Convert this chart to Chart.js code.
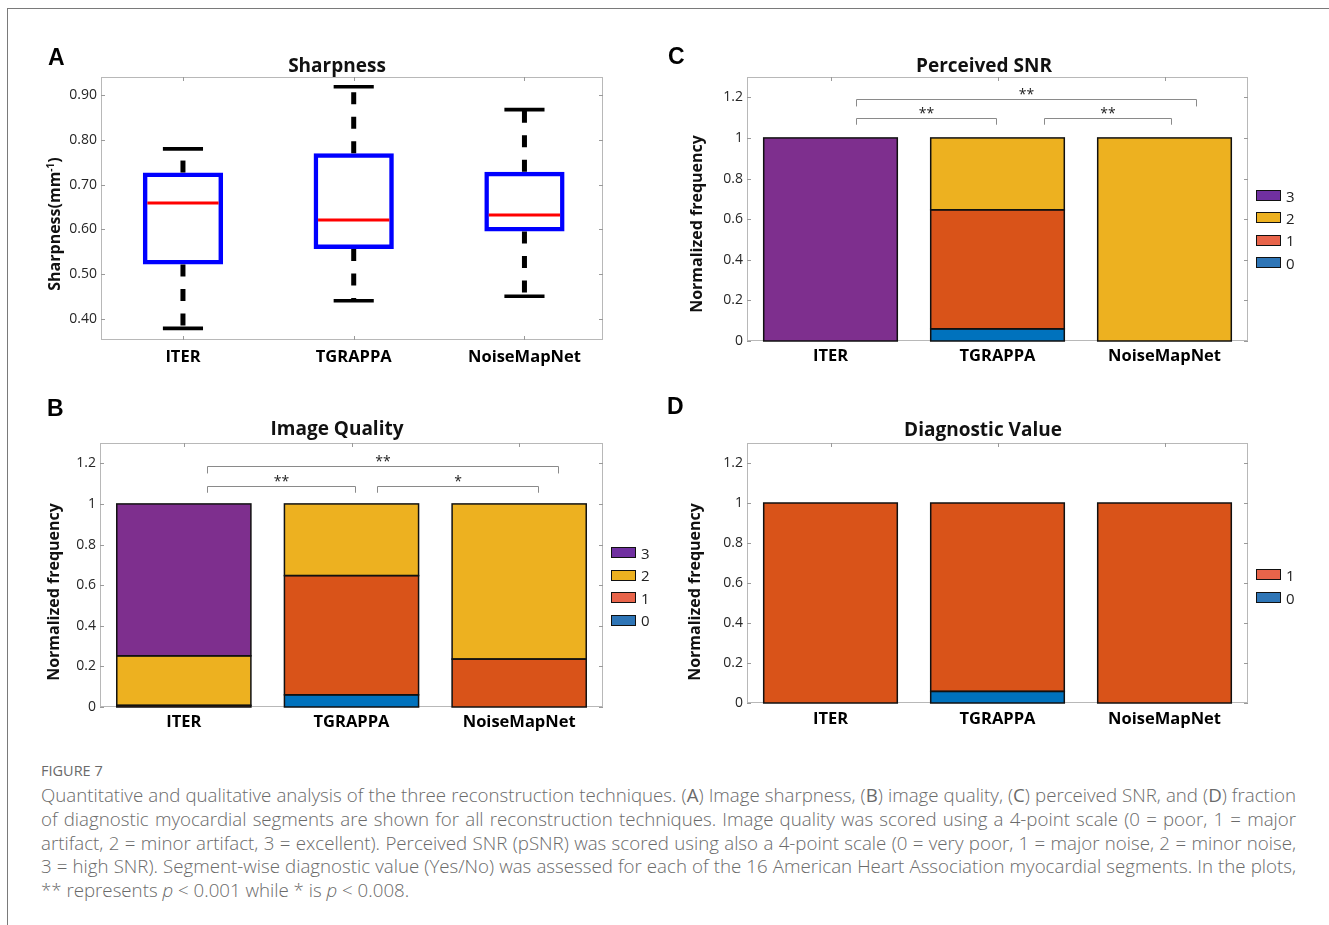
<!DOCTYPE html>
<html>
<head>
<meta charset="utf-8">
<title>Figure 7</title>
<script src="https://cdn.jsdelivr.net/npm/chart.js@4.4.1/dist/chart.umd.min.js"></script>
<style>
  html, body { margin: 0; padding: 0; background: #fff; }
  #page { position: relative; width: 1329px; height: 925px; overflow: hidden; font-family: "Open Sans", sans-serif; }
  .frame-top { position: absolute; left: 7px; top: 8px; right: 0; height: 1px; background: #7a7a7a; }
  .frame-left { position: absolute; left: 7px; top: 8px; bottom: 0; width: 1px; background: #7a7a7a; }
  canvas { position: absolute; }
  .letter { position: absolute; font: bold 23px "Liberation Sans", Arial, sans-serif; line-height: 1; color: #000; }
  .title { position: absolute; font-weight: 700; font-size: 19px; color: #111; transform: translate(-50%, -50%); white-space: nowrap; }
  .ytitle { position: absolute; font-weight: 700; font-size: 16px; color: #111; transform: translate(-50%, -50%) rotate(-90deg); white-space: nowrap; }
  .ytitle sup { font-size: 10px; }
  .legend { position: absolute; font-size: 15px; color: #222; }
  .legend .item { position: absolute; left: 0; height: 11px; display: flex; align-items: center; white-space: nowrap; }
  .legend .sw { box-sizing: border-box; width: 25px; height: 11px; border: 1px solid #111; margin-right: 5px; flex: none; }
  #caption { position: absolute; left: 41px; top: 762px; width: 1255px; color: #6a6a6a; }
  #caption .fig { font-size: 14.5px; line-height: 18px; height: 21px; font-weight: 400; }
  #caption .ln { font-size: 18.7px; line-height: 23.8px; font-weight: 300; white-space: nowrap; word-spacing: -2px; text-align: justify; text-align-last: justify; }
  #caption .ln.last { text-align-last: left; word-spacing: 0; }
  #caption .k { font-weight: 400; }
</style>
</head>
<body>
<div id="page">
  <div class="frame-top"></div>
  <div class="frame-left"></div>

  <canvas id="sharpness" width="650" height="340" style="left:0;top:40px"></canvas>
  <canvas id="quality" width="650" height="350" style="left:0;top:390px"></canvas>
  <canvas id="snr" width="679" height="340" style="left:650px;top:40px"></canvas>
  <canvas id="diagnostic" width="679" height="350" style="left:650px;top:390px"></canvas>

  <div class="letter" style="left:48px;top:46px">A</div>
  <div class="letter" style="left:47px;top:397px">B</div>
  <div class="letter" style="left:668px;top:45px">C</div>
  <div class="letter" style="left:667px;top:395px">D</div>

  <div class="title" style="left:337px;top:65px">Sharpness</div>
  <div class="title" style="left:337px;top:428px">Image Quality</div>
  <div class="title" style="left:984px;top:65px">Perceived SNR</div>
  <div class="title" style="left:983px;top:429px">Diagnostic Value</div>

  <div class="ytitle" style="left:54px;top:224px">Sharpness(mm<sup>-1</sup>)</div>
  <div class="ytitle" style="left:53px;top:592px">Normalized frequency</div>
  <div class="ytitle" style="left:696px;top:224px">Normalized frequency</div>
  <div class="ytitle" style="left:694px;top:592px">Normalized frequency</div>

  <div class="legend" id="legendQuality" style="left:611px;top:547px"></div>
  <div class="legend" id="legendSnr" style="left:1256px;top:190px"></div>
  <div class="legend" id="legendDiagnostic" style="left:1256px;top:569px"></div>

  <div id="caption">
    <div class="fig">FIGURE 7</div>
    <div class="ln">Quantitative and qualitative analysis of the three reconstruction techniques. (<span class="k">A</span>) Image sharpness, (<span class="k">B</span>) image quality, (<span class="k">C</span>) perceived SNR, and (<span class="k">D</span>) fraction</div>
    <div class="ln">of diagnostic myocardial segments are shown for all reconstruction techniques. Image quality was scored using a 4-point scale (0 = poor, 1 = major</div>
    <div class="ln">artifact, 2 = minor artifact, 3 = excellent). Perceived SNR (pSNR) was scored using also a 4-point scale (0 = very poor, 1 = major noise, 2 = minor noise,</div>
    <div class="ln">3 = high SNR). Segment-wise diagnostic value (Yes/No) was assessed for each of the 16 American Heart Association myocardial segments. In the plots,</div>
    <div class="ln last">** represents <i>p</i> &lt; 0.001 while * is <i>p</i> &lt; 0.008.</div>
  </div>
</div>

<script>
const techniques = ["ITER", "TGRAPPA", "NoiseMapNet"];

// A - sharpness (mm^-1) box plot
const sharpnessMin = [0.378, 0.440, 0.450];
const sharpnessQ1 = [0.521, 0.556, 0.595];
const sharpnessMedian = [0.659, 0.621, 0.632];
const sharpnessQ3 = [0.727, 0.770, 0.729];
const sharpnessMax = [0.780, 0.919, 0.868];
const sharpnessTicks = [0.4, 0.5, 0.6, 0.7, 0.8, 0.9];
const sharpnessTickLabels = ["0.40", "0.50", "0.60", "0.70", "0.80", "0.90"];

// normalized frequency axis used by B, C, D
const frequencyTicks = [0, 0.2, 0.4, 0.6, 0.8, 1, 1.2];
const frequencyTickLabels = ["0", "0.2", "0.4", "0.6", "0.8", "1", "1.2"];

const scoreNames = ["0", "1", "2", "3"];

// B - image quality, fraction per score
const qualityScore0 = [0, 0.06, 0];
const qualityScore1 = [0.008, 0.587, 0.236];
const qualityScore2 = [0.244, 0.353, 0.764];
const qualityScore3 = [0.748, 0, 0];

// C - perceived SNR, fraction per score
const snrScore0 = [0, 0.06, 0];
const snrScore1 = [0, 0.586, 0];
const snrScore2 = [0, 0.354, 1];
const snrScore3 = [1, 0, 0];

// D - diagnostic value (0 = no, 1 = yes)
const diagnosticScore0 = [0, 0.058, 0];
const diagnosticScore1 = [1, 0.942, 1];

// significance brackets (x in category units, level in y units)
const qualityBrackets = [
  { from: 0.14, to: 2.23, level: 1.185, label: "**" },
  { from: 0.14, to: 1.02, level: 1.09, label: "**" },
  { from: 1.15, to: 2.11, level: 1.09, label: "*" },
];
const snrBrackets = [
  { from: 0.15, to: 2.19, level: 1.19, label: "**" },
  { from: 0.15, to: 0.99, level: 1.1, label: "**" },
  { from: 1.28, to: 2.04, level: 1.1, label: "**" },
];

const barColors = ["#0072BD", "#D95319", "#EDB120", "#7E2F8E"];
const legendColors = ["#2E75B6", "#E8644A", "#EDB120", "#7030A0"];

Chart.defaults.font.family = '"Open Sans", sans-serif';
Chart.defaults.color = "#262626";

// light grey axes box with inward tick marks, like the original figure
const axesFrame = {
  id: "axesFrame",
  beforeDatasetsDraw(chart) {
    const { ctx, chartArea: a, scales } = chart;
    ctx.save();
    ctx.strokeStyle = "#b8b8b8";
    ctx.lineWidth = 1;
    ctx.strokeRect(a.left + 0.5, a.top + 0.5, a.width - 1, a.height - 1);
    ctx.strokeStyle = "#9a9a9a";
    ctx.beginPath();
    for (const t of scales.y.ticks) {
      const py = Math.round(scales.y.getPixelForValue(t.value)) + 0.5;
      ctx.moveTo(a.left, py);
      ctx.lineTo(a.left + 4, py);
      ctx.moveTo(a.right, py);
      ctx.lineTo(a.right - 4, py);
    }
    for (const t of scales.x.ticks) {
      const px = Math.round(scales.x.getPixelForValue(t.value)) + 0.5;
      ctx.moveTo(px, a.top);
      ctx.lineTo(px, a.top + 4);
      ctx.moveTo(px, a.bottom);
      ctx.lineTo(px, a.bottom - 4);
    }
    ctx.stroke();
    ctx.restore();
  },
};

// black outline centred on every stacked segment edge (MATLAB style)
const segmentEdges = {
  id: "segmentEdges",
  afterDatasetsDraw(chart) {
    const { ctx } = chart;
    ctx.save();
    ctx.strokeStyle = "#111";
    ctx.lineWidth = 1.5;
    chart.data.datasets.forEach((ds, k) => {
      chart.getDatasetMeta(k).data.forEach((bar) => {
        const h = Math.abs(bar.base - bar.y);
        if (h < 0.5) return;
        ctx.strokeRect(bar.x - bar.width / 2, Math.min(bar.y, bar.base), bar.width, h);
      });
    });
    ctx.restore();
  },
};

const whiskers = {
  id: "whiskers",
  afterDatasetsDraw(chart) {
    const { ctx, scales: { y } } = chart;
    const line = (x1, y1, x2, y2) => {
      ctx.beginPath();
      ctx.moveTo(x1, y1);
      ctx.lineTo(x2, y2);
      ctx.stroke();
    };
    ctx.save();
    chart.getDatasetMeta(0).data.forEach((box, i) => {
      const cx = box.x;
      const half = box.width / 2;
      const yMin = y.getPixelForValue(sharpnessMin[i]);
      const yMax = y.getPixelForValue(sharpnessMax[i]);
      ctx.strokeStyle = "#000";
      ctx.lineWidth = 5;
      ctx.setLineDash([12, 12.5]);
      line(cx, y.getPixelForValue(sharpnessQ3[i]), cx, yMax);
      line(cx, y.getPixelForValue(sharpnessQ1[i]), cx, yMin);
      ctx.setLineDash([]);
      ctx.lineWidth = 3.6;
      line(cx - half / 2, yMax, cx + half / 2, yMax);
      line(cx - half / 2, yMin, cx + half / 2, yMin);
      ctx.strokeStyle = "#ff0000";
      ctx.lineWidth = 3;
      const yMed = y.getPixelForValue(sharpnessMedian[i]);
      line(cx - half + 4.5, yMed, cx + half - 4.5, yMed);
    });
    ctx.restore();
  },
};

const significance = {
  id: "significance",
  afterDatasetsDraw(chart, args, opts) {
    if (!opts.brackets) return;
    const { ctx, scales: { x, y } } = chart;
    ctx.save();
    ctx.strokeStyle = "#8a8a8a";
    ctx.lineWidth = 1;
    ctx.fillStyle = "#222";
    ctx.font = '14px "Open Sans", sans-serif';
    ctx.textAlign = "center";
    ctx.textBaseline = "alphabetic";
    for (const b of opts.brackets) {
      const x1 = Math.round(x.getPixelForValue(b.from)) + 0.5;
      const x2 = Math.round(x.getPixelForValue(b.to)) + 0.5;
      const py = Math.round(y.getPixelForValue(b.level)) + 0.5;
      const drop = y.getPixelForValue(b.level - 0.035);
      ctx.beginPath();
      ctx.moveTo(x1, drop);
      ctx.lineTo(x1, py);
      ctx.lineTo(x2, py);
      ctx.lineTo(x2, drop);
      ctx.stroke();
      ctx.fillText(b.label, (x1 + x2) / 2, py - 1);
    }
    ctx.restore();
  },
};

const categoryTicks = (labelPad) => ({
  color: "#000",
  font: { size: 16.5, weight: "bold" },
  padding: labelPad,
  maxRotation: 0,
  autoSkip: false,
});

function yAxis(min, max, tickValues, tickLabels, stacked) {
  return {
    stacked,
    min,
    max,
    grid: { display: false, drawTicks: false },
    border: { display: false },
    ticks: {
      font: { size: 14 },
      padding: 4,
      callback: (value) => tickLabels[tickValues.indexOf(value)],
    },
    afterBuildTicks: (scale) => { scale.ticks = tickValues.map((v) => ({ value: v })); },
    afterFit: (scale) => { scale.width = 45; },
  };
}

// A: boxes are floating bars on a numeric x axis (positions 1, 2, 3)
new Chart(document.getElementById("sharpness"), {
  type: "bar",
  data: {
    datasets: [{
      data: techniques.map((_, i) => ({ x: i + 1, y: [sharpnessQ1[i], sharpnessQ3[i]] })),
      backgroundColor: "rgba(255,255,255,0)",
      borderColor: "#0000ff",
      borderWidth: 4.5,
      borderSkipped: false,
      barPercentage: 0.47,
      categoryPercentage: 1,
    }],
  },
  options: {
    responsive: false,
    animation: false,
    layout: { padding: { left: 56, top: 37, right: 47, bottom: 10 } },
    plugins: { legend: { display: false }, tooltip: { enabled: false } },
    scales: {
      x: {
        type: "linear",
        min: 0.52,
        max: 3.46,
        offset: false,
        grid: { display: false, drawTicks: false },
        border: { display: false },
        ticks: { ...categoryTicks(7), callback: (value) => techniques[value - 1] },
        afterBuildTicks: (scale) => { scale.ticks = techniques.map((_, i) => ({ value: i + 1 })); },
        afterFit: (scale) => { scale.height = 30; },
      },
      y: yAxis(0.352, 0.941, sharpnessTicks, sharpnessTickLabels, false),
    },
  },
  plugins: [axesFrame, whiskers],
});

function frequencyChart(id, series, brackets, padding, labelPad) {
  return new Chart(document.getElementById(id), {
    type: "bar",
    data: {
      labels: techniques,
      datasets: series.map((values, k) => ({
        label: scoreNames[k],
        data: values,
        backgroundColor: barColors[k],
        borderWidth: 0,
        inflateAmount: 0,
        barPercentage: 0.8,
        categoryPercentage: 1,
      })),
    },
    options: {
      responsive: false,
      animation: false,
      layout: { padding },
      plugins: {
        legend: { display: false },
        tooltip: { enabled: false },
        significance: { brackets },
      },
      scales: {
        x: {
          stacked: true,
          grid: { display: false, drawTicks: false },
          border: { display: false },
          ticks: categoryTicks(labelPad),
          afterFit: (scale) => { scale.height = 30; },
        },
        y: yAxis(0, 1.3, frequencyTicks, frequencyTickLabels, true),
      },
    },
    plugins: [axesFrame, segmentEdges, significance],
  });
}

frequencyChart("quality", [qualityScore0, qualityScore1, qualityScore2, qualityScore3],
  qualityBrackets, { left: 55, top: 53, right: 47, bottom: 3 }, 5);
frequencyChart("snr", [snrScore0, snrScore1, snrScore2, snrScore3],
  snrBrackets, { left: 52, top: 37, right: 81, bottom: 9 }, 5);
frequencyChart("diagnostic", [diagnosticScore0, diagnosticScore1],
  null, { left: 52, top: 53, right: 81, bottom: 7 }, 6);

function buildLegend(id, count, pitch) {
  const box = document.getElementById(id);
  for (let k = count - 1, row = 0; k >= 0; k--, row++) {
    const item = document.createElement("div");
    item.className = "item";
    item.style.top = row * pitch + "px";
    item.innerHTML = `<span class="sw" style="background:${legendColors[k]}"></span>${scoreNames[k]}`;
    box.appendChild(item);
  }
}
buildLegend("legendQuality", 4, 22.5);
buildLegend("legendSnr", 4, 22.4);
buildLegend("legendDiagnostic", 2, 23);
</script>
</body>
</html>
